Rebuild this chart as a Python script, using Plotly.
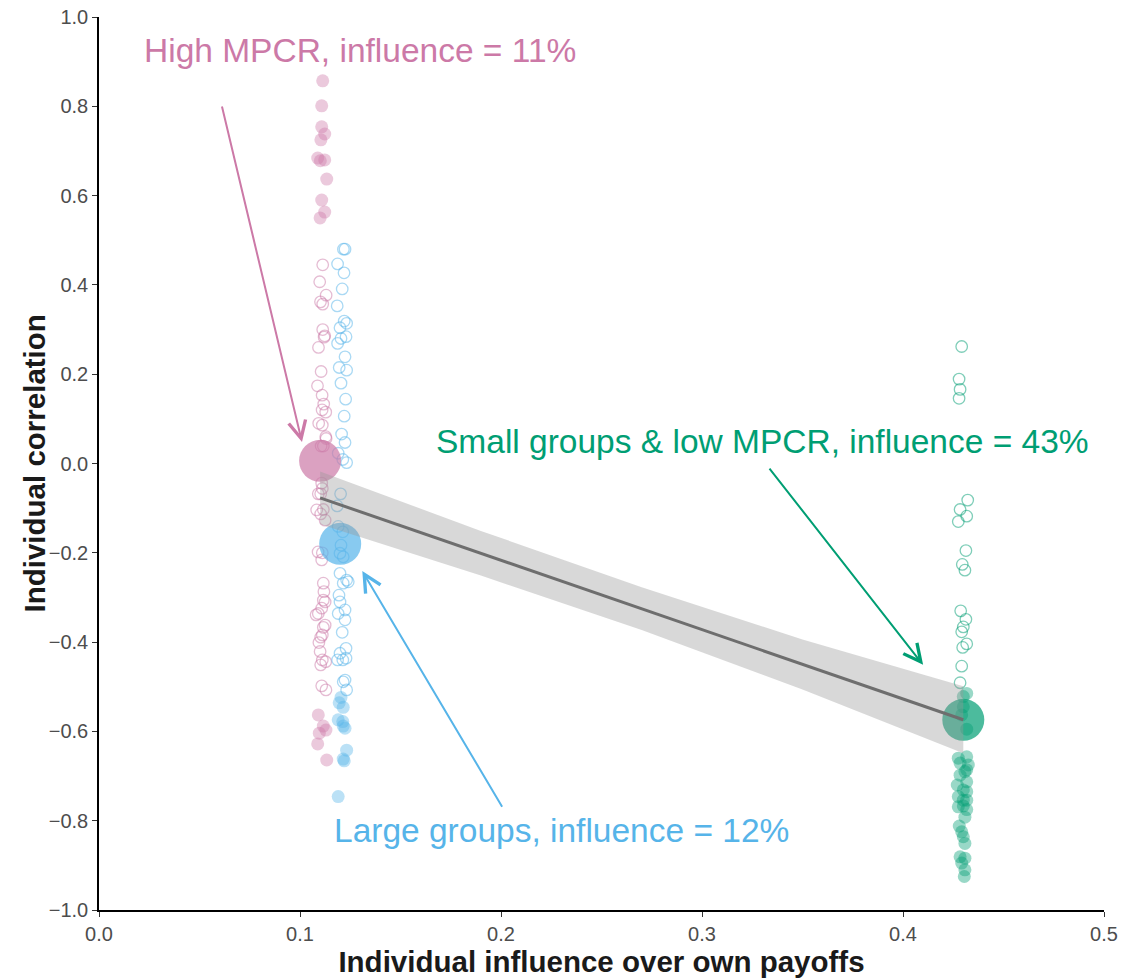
import numpy as np
import plotly.graph_objects as go

# ---------------- data ----------------
# High MPCR (pink): jittered x, correlation y
pink_open_x = [0.1113, 0.1098, 0.1130, 0.1102, 0.1113, 0.1113, 0.1123, 0.1120, 0.1092, 0.1105,
               0.1087, 0.1110, 0.1118, 0.1110, 0.1128, 0.1093, 0.1111, 0.1128, 0.1130, 0.1105,
               0.1116, 0.1108, 0.1111, 0.1091, 0.1103, 0.1083, 0.1116, 0.1103, 0.1125, 0.1090,
               0.1111, 0.1108, 0.1116, 0.1119, 0.1116, 0.1108, 0.1091, 0.1125, 0.1080, 0.1125,
               0.1116, 0.1103, 0.1111, 0.1094, 0.1100, 0.1111, 0.1128, 0.1103, 0.1108, 0.1129]
pink_open_y = [0.445, 0.407, 0.377, 0.362, 0.357, 0.300, 0.286, 0.283, 0.260, 0.206,
               0.174, 0.153, 0.133, 0.120, 0.115, 0.090, 0.086, 0.060, 0.056, 0.039,
               0.039, -0.044, -0.056, -0.068, -0.068, -0.104, -0.103, -0.113, -0.127, -0.198,
               -0.200, -0.216, -0.268, -0.287, -0.306, -0.324, -0.336, -0.310, -0.339, -0.362,
               -0.367, -0.389, -0.384, -0.401, -0.421, -0.440, -0.444, -0.451, -0.498, -0.507]
pink_fill_x = [0.1113, 0.1108, 0.1108, 0.1123, 0.1104, 0.1088, 0.1101, 0.1123, 0.1133, 0.1108,
               0.1123, 0.1100, 0.1091, 0.1116, 0.1129, 0.1096, 0.1088, 0.1133]
pink_fill_y = [0.857, 0.801, 0.754, 0.738, 0.725, 0.684, 0.678, 0.680, 0.637, 0.590,
               0.563, 0.550, -0.563, -0.588, -0.597, -0.604, -0.628, -0.664]

# Large groups (blue)
blue_open_x = [0.1216, 0.1224, 0.1187, 0.1219, 0.1210, 0.1185, 0.1220, 0.1232, 0.1199, 0.1229,
               0.1204, 0.1187, 0.1224, 0.1195, 0.1232, 0.1204, 0.1227, 0.1220, 0.1207, 0.1224,
               0.1190, 0.1213, 0.1232, 0.1202, 0.1185, 0.1190, 0.1213, 0.1204, 0.1199, 0.1215,
               0.1199, 0.1232, 0.1215, 0.1240, 0.1194, 0.1199, 0.1224, 0.1190, 0.1224, 0.1210,
               0.1229, 0.1199, 0.1187, 0.1229, 0.1213, 0.1224, 0.1232, 0.1215]
blue_open_y = [0.480, 0.480, 0.447, 0.427, 0.391, 0.353, 0.319, 0.314, 0.304, 0.284,
               0.280, 0.269, 0.239, 0.215, 0.209, 0.180, 0.144, 0.106, 0.066, 0.047,
               0.023, 0.009, 0.002, -0.068, -0.095, -0.141, -0.153, -0.183, -0.201, -0.209,
               -0.246, -0.261, -0.268, -0.265, -0.295, -0.310, -0.328, -0.336, -0.350, -0.378,
               -0.414, -0.425, -0.440, -0.436, -0.440, -0.485, -0.507, -0.489]
blue_fill_x = [0.1204, 0.1195, 0.1215, 0.1190, 0.1213, 0.1215, 0.1224, 0.1232, 0.1215, 0.1220,
               0.1190]
blue_fill_y = [-0.524, -0.536, -0.546, -0.574, -0.578, -0.588, -0.593, -0.642, -0.662, -0.666,
               -0.746]

# Small groups & low MPCR (green)
green_open_x = [0.4292, 0.4279, 0.4284, 0.4279, 0.4322, 0.4284, 0.4317, 0.4275, 0.4313, 0.4295,
                0.4308, 0.4287, 0.4313, 0.4300, 0.4292, 0.4317, 0.4297, 0.4292, 0.4284]
green_open_y = [0.262, 0.189, 0.166, 0.146, -0.082, -0.103, -0.118, -0.130, -0.195, -0.226,
                -0.239, -0.330, -0.349, -0.366, -0.377, -0.404, -0.412, -0.454, -0.491]
green_fill_x = [0.4317, 0.4300, 0.4300, 0.4292, 0.4317, 0.4275, 0.4317, 0.4325, 0.4284, 0.4308,
                0.4317, 0.4284, 0.4317, 0.4270, 0.4300, 0.4317, 0.4275, 0.4300, 0.4317, 0.4275,
                0.4300, 0.4317, 0.4308, 0.4280, 0.4292, 0.4300, 0.4308, 0.4284, 0.4308, 0.4292,
                0.4308, 0.4305]
green_fill_y = [-0.515, -0.522, -0.545, -0.563, -0.595, -0.660, -0.657, -0.675, -0.671, -0.690,
                -0.686, -0.698, -0.713, -0.720, -0.731, -0.735, -0.746, -0.754, -0.754, -0.769,
                -0.767, -0.775, -0.792, -0.812, -0.825, -0.836, -0.851, -0.881, -0.884, -0.895,
                -0.910, -0.925]

# group means (large markers)
mean_x = [0.11, 0.12, 0.43]
mean_y = [0.006, -0.180, -0.574]

# fitted regression line and its confidence band
band_x = [0.11, 0.19, 0.27, 0.35, 0.43]
fit_y = [-0.077, -0.201, -0.325, -0.450, -0.574]
band_hi = [-0.018, -0.151, -0.277, -0.394, -0.499]
band_lo = [-0.136, -0.251, -0.373, -0.506, -0.649]

# annotation labels
labels = ["High MPCR, influence = 11%",
          "Large groups, influence = 12%",
          "Small groups & low MPCR, influence = 43%"]
label_x = [0.130, 0.230, 0.330]
label_y = [0.926, -0.821, 0.050]
arrow_tail_x = [0.061, 0.201, 0.333]
arrow_tail_y = [0.803, -0.772, -0.008]
arrow_tip_x = [0.101, 0.131, 0.410]
arrow_tip_y = [0.048, -0.241, -0.451]

x_ticks = [0.0, 0.1, 0.2, 0.3, 0.4, 0.5]
y_ticks = [-1.0, -0.8, -0.6, -0.4, -0.2, 0.0, 0.2, 0.4, 0.6, 0.8, 1.0]

colors = ["#CC79A7", "#56B4E9", "#009E73"]
rgb = [(204, 121, 167), (86, 180, 233), (0, 158, 115)]
FONT = "Liberation Sans, Arial, Helvetica, sans-serif"


def rgba(c, a):
    return "rgba(%d,%d,%d,%.2f)" % (c[0], c[1], c[2], a)


# ---------------- figure ----------------
fig = go.Figure()

groups = [
    (pink_open_x, pink_open_y, pink_fill_x, pink_fill_y, rgb[0]),
    (blue_open_x, blue_open_y, blue_fill_x, blue_fill_y, rgb[1]),
    (green_open_x, green_open_y, green_fill_x, green_fill_y, rgb[2]),
]
for ox, oy, fx, fy, c in groups:
    fig.add_trace(go.Scatter(x=ox, y=oy, mode="markers", showlegend=False, hoverinfo="skip",
                             marker=dict(symbol="circle-open", size=11.5, color=rgba(c, 0.5),
                                         line=dict(width=1.3, color=rgba(c, 0.5)))))
    fig.add_trace(go.Scatter(x=fx, y=fy, mode="markers", showlegend=False, hoverinfo="skip",
                             marker=dict(symbol="circle", size=13, color=rgba(c, 0.4),
                                         line=dict(width=0))))

fig.add_trace(go.Scatter(x=mean_x, y=mean_y, mode="markers", showlegend=False, hoverinfo="skip",
                         marker=dict(symbol="circle", size=42,
                                     color=[rgba(c, 0.7) for c in rgb], line=dict(width=0))))

# confidence band and fitted line
fig.add_trace(go.Scatter(x=band_x + band_x[::-1], y=band_hi + band_lo[::-1],
                         mode="lines", fill="toself", fillcolor="rgba(153,153,153,0.38)",
                         line=dict(width=0), showlegend=False, hoverinfo="skip"))
fig.add_trace(go.Scatter(x=band_x, y=fit_y, mode="lines", line=dict(color="#6E6E6E", width=3),
                         showlegend=False, hoverinfo="skip"))

annotations = []
for i in range(3):
    annotations.append(dict(x=label_x[i], y=label_y[i], xref="x", yref="y", text=labels[i],
                            showarrow=False, font=dict(family=FONT, size=33.5, color=colors[i]),
                            xanchor="center", yanchor="middle"))
    annotations.append(dict(x=arrow_tip_x[i], y=arrow_tip_y[i], xref="x", yref="y",
                            ax=arrow_tail_x[i], ay=arrow_tail_y[i], axref="x", ayref="y",
                            text="", showarrow=True, arrowhead=5, arrowsize=1.7,
                            arrowwidth=2, arrowcolor=colors[i], standoff=0, startstandoff=0))

# y axis title as a rotated paper annotation (sits closer to the tick labels)
annotations.append(dict(x=-0.0637, y=0.5, xref="paper", yref="paper",
                        text="<b>Individual correlation</b>", textangle=-90, showarrow=False,
                        xanchor="center", yanchor="middle",
                        font=dict(family=FONT, size=29.5, color="#1A1A1A")))

axis_common = dict(showgrid=False, zeroline=False, automargin=False,
                   showline=True, linecolor="black", linewidth=1.6, ticks="outside", ticklen=5,
                   tickcolor="#333333", tickwidth=1.2, tickformat=".1f",
                   tickfont=dict(family=FONT, size=20, color="#4D4D4D"))

fig.update_layout(
    width=1122, height=980,
    margin=dict(l=99, r=18, t=17, b=70),
    plot_bgcolor="white", paper_bgcolor="white",
    font=dict(family=FONT),
    annotations=annotations,
    xaxis=dict(range=[0, 0.5], tickvals=x_ticks,
               title=dict(text="<b>Individual influence over own payoffs</b>",
                          font=dict(family=FONT, size=29.5, color="#1A1A1A"), standoff=6),
               **axis_common),
    yaxis=dict(range=[-1, 1], tickvals=y_ticks, **axis_common),
)

fig.write_html("out.html")
